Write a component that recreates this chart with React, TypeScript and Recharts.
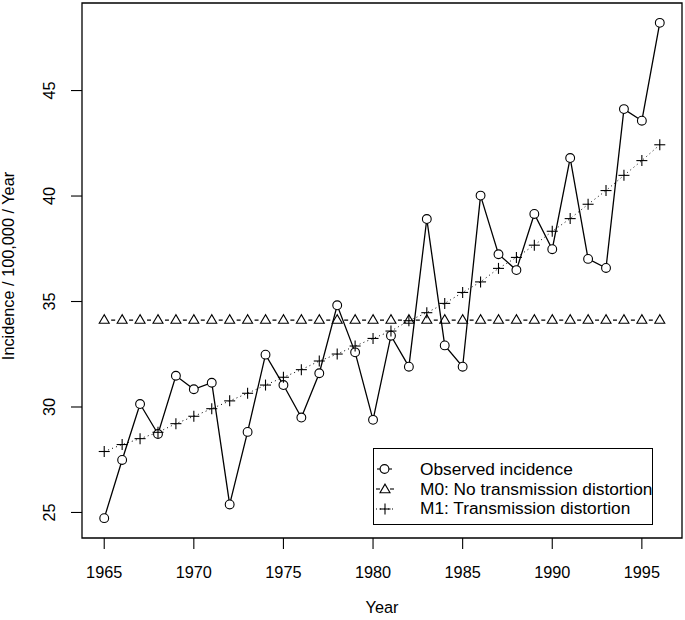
import { LineChart, Line, XAxis, YAxis, ReferenceArea } from 'recharts';

const YEARS = [
  1965, 1966, 1967, 1968, 1969, 1970, 1971, 1972, 1973, 1974, 1975, 1976, 1977, 1978, 1979, 1980,
  1981, 1982, 1983, 1984, 1985, 1986, 1987, 1988, 1989, 1990, 1991, 1992, 1993, 1994, 1995, 1996,
];
const OBSERVED = [
  24.73, 27.49, 30.14, 28.72, 31.48, 30.84, 31.15, 25.38, 28.82, 32.48, 31.04, 29.5, 31.6, 34.82, 32.59, 29.39,
  33.38, 31.91, 38.91, 32.92, 31.91, 40.02, 37.24, 36.49, 39.15, 37.48, 41.8, 37.02, 36.59, 44.12, 43.57, 48.21,
];
const M0 = [
  34.12, 34.12, 34.12, 34.12, 34.12, 34.12, 34.12, 34.12, 34.12, 34.12, 34.12, 34.12, 34.12, 34.12, 34.12, 34.12,
  34.12, 34.12, 34.12, 34.12, 34.12, 34.12, 34.12, 34.12, 34.12, 34.12, 34.12, 34.12, 34.12, 34.12, 34.12, 34.12,
];
const M1 = [
  27.89, 28.22, 28.5, 28.8, 29.21, 29.56, 29.92, 30.29, 30.65, 31.04, 31.41, 31.77, 32.18, 32.51, 32.89, 33.25,
  33.6, 34.09, 34.47, 34.91, 35.43, 35.93, 36.57, 37.09, 37.67, 38.33, 38.93, 39.61, 40.26, 40.98, 41.68, 42.43,
];
const X_TICKS = [1965, 1970, 1975, 1980, 1985, 1990, 1995];
const Y_TICKS = [25, 30, 35, 40, 45];
const LEGEND_LABELS = ['Observed incidence', 'M0: No transmission distortion', 'M1: Transmission distortion'];

const X_DOMAIN = [1963.76, 1997.24];
const Y_DOMAIN = [23.79, 49.15];

const data = YEARS.map((year, i) => ({ year, obs: OBSERVED[i], m0: M0[i], m1: M1[i] }));

const FONT = '"Liberation Sans", Arial, Helvetica, sans-serif';
const PLOT_W = 600;
// spacing of one year in px, used to put dashes only between the triangles
const STEP = PLOT_W / (X_DOMAIN[1] - X_DOMAIN[0]);
const DASH = 4;
const GAP = (STEP - DASH) / 2;

function Circle({ cx, cy, fill = '#fff' }: { cx: number; cy: number; fill?: string }) {
  return <circle cx={cx} cy={cy} r={4.4} fill={fill} stroke="#000" strokeWidth={1.1} />;
}

function Triangle({ cx, cy }: { cx: number; cy: number }) {
  const pts = `${cx},${cy - 5.4} ${cx - 5},${cy + 3.2} ${cx + 5},${cy + 3.2}`;
  return <polygon points={pts} fill="none" stroke="#000" strokeWidth={1.1} />;
}

function Cross({ cx, cy }: { cx: number; cy: number }) {
  return (
    <g stroke="#000" strokeWidth={1.1}>
      <line x1={cx - 5.5} y1={cy} x2={cx + 5.5} y2={cy} />
      <line x1={cx} y1={cy - 5.5} x2={cx} y2={cy + 5.5} />
    </g>
  );
}

function XTick({ x, y, payload }: any) {
  return (
    <text x={x} y={y + 26.5} textAnchor="middle" fontFamily={FONT} fontSize={16.3} fill="#000">
      {payload.value}
    </text>
  );
}

function YTick({ x, y, payload }: any) {
  const tx = x - 14;
  return (
    <text x={tx} y={y} transform={`rotate(-90, ${tx}, ${y})`} textAnchor="middle" fontFamily={FONT} fontSize={16.3} fill="#000">
      {payload.value}
    </text>
  );
}

function LegendBox() {
  return (
    <div style={{ position: 'absolute', left: 373, top: 448, width: 280, height: 77, border: '1px solid #000', boxSizing: 'border-box', background: '#fff' }}>
      <svg width={278} height={75} style={{ display: 'block' }}>
        <line x1={3} y1={20} x2={18} y2={20} stroke="#000" strokeWidth={1.1} />
        <Circle cx={10.5} cy={20} />
        <line x1={2} y1={40} x2={6} y2={40} stroke="#000" strokeWidth={1.1} />
        <line x1={16} y1={40} x2={20} y2={40} stroke="#000" strokeWidth={1.1} />
        <Triangle cx={11} cy={40.5} />
        <line x1={2} y1={60} x2={20} y2={60} stroke="#000" strokeWidth={1} strokeDasharray="1 3" />
        <Cross cx={11} cy={60} />
        {LEGEND_LABELS.map((t, i) => (
          <text key={t} x={46} y={26 + i * 19.7} fontFamily={FONT} fontSize={17.3} fill="#000">{t}</text>
        ))}
      </svg>
    </div>
  );
}

export default function App() {
  return (
    <div style={{ position: 'absolute', left: 0, top: 0, width: 685, height: 620, background: '#fff' }}>
      <LineChart width={685} height={620} data={data} margin={{ top: 3, right: 3, bottom: 22, left: 22 }}>
        <XAxis
          dataKey="year"
          type="number"
          domain={X_DOMAIN}
          allowDataOverflow
          ticks={X_TICKS}
          interval={0}
          axisLine={false}
          tickLine={{ stroke: '#000', strokeWidth: 1.1 }}
          tickSize={11}
          height={60}
          tick={<XTick />}
          label={() => (
            <text x={382} y={613} textAnchor="middle" fontFamily={FONT} fontSize={16.3} fill="#000">Year</text>
          )}
        />
        <YAxis
          type="number"
          domain={Y_DOMAIN}
          allowDataOverflow
          ticks={Y_TICKS}
          interval={0}
          axisLine={false}
          tickLine={{ stroke: '#000', strokeWidth: 1.1 }}
          tickSize={11}
          width={60}
          tick={<YTick />}
          label={() => (
            <text x={14} y={266} transform="rotate(-90, 14, 266)" textAnchor="middle" fontFamily={FONT} fontSize={16.3} fill="#000">
              Incidence / 100,000 / Year
            </text>
          )}
        />
        <ReferenceArea x1={X_DOMAIN[0]} x2={X_DOMAIN[1]} y1={Y_DOMAIN[0]} y2={Y_DOMAIN[1]} fill="none" fillOpacity={0} stroke="#000" strokeWidth={1.3} />
        <Line
          dataKey="obs"
          type="linear"
          stroke="#000"
          strokeWidth={1.3}
          isAnimationActive={false}
          dot={(p: any) => <Circle key={p.index} cx={p.cx} cy={p.cy} />}
          activeDot={false}
        />
        <Line
          dataKey="m1"
          type="linear"
          stroke="#000"
          strokeWidth={1}
          strokeDasharray="1 3.2"
          isAnimationActive={false}
          dot={(p: any) => <Cross key={p.index} cx={p.cx} cy={p.cy} />}
          activeDot={false}
        />
        <Line
          dataKey="m0"
          type="linear"
          stroke="#000"
          strokeWidth={1.1}
          strokeDasharray={`0 ${GAP} ${DASH} ${GAP}`}
          isAnimationActive={false}
          dot={(p: any) => <Triangle key={p.index} cx={p.cx} cy={p.cy} />}
          activeDot={false}
        />
      </LineChart>
      <LegendBox />
    </div>
  );
}
